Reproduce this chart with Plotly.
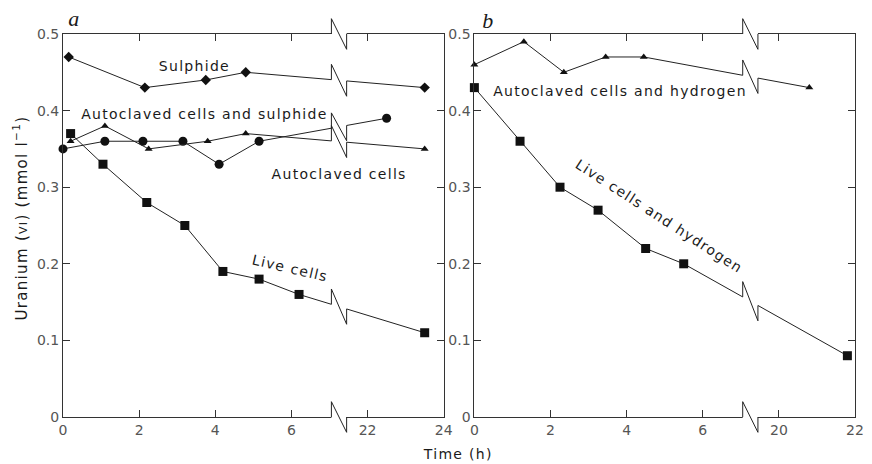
import plotly.graph_objects as go
import numpy as np

# ---------------- data (time in h, uranium(VI) in mmol/l) ----------------
# Panel a
a_sulphide_t = [0.15, 2.15, 3.75, 4.8, 23.5]
a_sulphide_v = [0.47, 0.43, 0.44, 0.45, 0.43]
a_acs_t = [0.0, 1.1, 2.1, 3.15, 4.1, 5.15, 22.5]      # autoclaved cells and sulphide
a_acs_v = [0.35, 0.36, 0.36, 0.36, 0.33, 0.36, 0.39]
a_ac_t = [0.2, 1.1, 2.25, 3.8, 4.8, 23.5]             # autoclaved cells
a_ac_v = [0.36, 0.38, 0.35, 0.36, 0.37, 0.35]
a_live_t = [0.2, 1.05, 2.2, 3.2, 4.2, 5.15, 6.2, 23.5]
a_live_v = [0.37, 0.33, 0.28, 0.25, 0.19, 0.18, 0.16, 0.11]

# Panel b
b_ach_t = [0.0, 1.3, 2.35, 3.45, 4.45, 20.8]           # autoclaved cells and hydrogen
b_ach_v = [0.46, 0.49, 0.45, 0.47, 0.47, 0.43]
b_live_t = [0.0, 1.2, 2.25, 3.25, 4.5, 5.5, 21.8]      # live cells and hydrogen
b_live_v = [0.43, 0.36, 0.30, 0.27, 0.22, 0.20, 0.08]

a_tick_labels = ["0", "2", "4", "6", "22", "24"]
b_tick_labels = ["0", "2", "4", "6", "20", "22"]
y_tick_vals = [0, 0.1, 0.2, 0.3, 0.4, 0.5]
y_tick_labels = ["0", "0.1", "0.2", "0.3", "0.4", "0.5"]

# broken axis: times after the break are shifted left
A_SHIFT = 14
B_SHIFT = 12
BREAK_X0, BREAK_X1 = 7.05, 7.45


def to_axis(ts, shift):
    return [t if t < 7 else t - shift for t in ts]


LINE_C = "#222222"
TXT_C = "#1a1a1a"
TICK_C = "#555555"
FONT = "DejaVu Sans"

fig = go.Figure()

series = [
    # (t, v, shift, marker symbol, size, xaxis, yaxis)
    (a_sulphide_t, a_sulphide_v, A_SHIFT, "diamond", 8, "x", "y"),
    (a_acs_t, a_acs_v, A_SHIFT, "circle", 9, "x", "y"),
    (a_ac_t, a_ac_v, A_SHIFT, "triangle-up", 7, "x", "y"),
    (a_live_t, a_live_v, A_SHIFT, "square", 9, "x", "y"),
    (b_ach_t, b_ach_v, B_SHIFT, "triangle-up", 7, "x2", "y2"),
    (b_live_t, b_live_v, B_SHIFT, "square", 9, "x2", "y2"),
]

shapes = []
# white masks over the break region
for xr in ["x", "x2"]:
    shapes.append(dict(type="rect", xref=xr, yref="paper", x0=BREAK_X0, x1=BREAK_X1,
                       y0=-0.04, y1=1.04, fillcolor="white", line=dict(width=0),
                       layer="above"))

D = 0.04  # zigzag amplitude in paper units


def zig(xr, pL, pR, width=1):
    path = (f"M {BREAK_X0},{pL} L {BREAK_X0},{pL + D} "
            f"L {BREAK_X1},{pR - D} L {BREAK_X1},{pR}")
    return dict(type="path", xref=xr, yref="paper", path=path,
                line=dict(color=LINE_C, width=width), layer="above")


for t, v, shift, sym, size, xa, ya in series:
    xs = to_axis(t, shift)
    fig.add_trace(go.Scatter(
        x=xs, y=v, xaxis=xa, yaxis=ya, mode="lines+markers",
        line=dict(color=LINE_C, width=1),
        marker=dict(symbol=sym, size=size, color="#111111"),
        cliponaxis=False, showlegend=False, hoverinfo="skip"))
    yL = float(np.interp(BREAK_X0, xs, v))
    yR = float(np.interp(BREAK_X1, xs, v))
    shapes.append(zig(xa, yL / 0.5, yR / 0.5))

# axis breaks (top and bottom)
for xr in ["x", "x2"]:
    shapes.append(zig(xr, 1.0, 1.0))
    shapes.append(zig(xr, 0.0, 0.0))

ax_common = dict(
    showline=True, mirror="ticks", linecolor="#333333", linewidth=1,
    ticks="inside", ticklen=7, tickcolor="#333333", tickwidth=1,
    showgrid=False, zeroline=False,
    tickfont=dict(family=FONT, size=14, color=TICK_C),
)

fig.update_layout(
    width=872, height=464,
    margin=dict(l=63, r=8, t=34, b=47),
    paper_bgcolor="white", plot_bgcolor="white",
    xaxis=dict(domain=[0, 0.4807], range=[0, 10], tickvals=[0, 2, 4, 6, 8, 10],
               ticktext=a_tick_labels, anchor="y", **ax_common),
    yaxis=dict(range=[0, 0.5], tickvals=y_tick_vals, ticktext=y_tick_labels,
               anchor="x", **ax_common),
    xaxis2=dict(domain=[0.5194, 1], range=[0, 10], tickvals=[0, 2, 4, 6, 8, 10],
                ticktext=b_tick_labels, anchor="y2", **ax_common),
    yaxis2=dict(range=[0, 0.5], tickvals=y_tick_vals, ticktext=y_tick_labels,
                anchor="x2", **ax_common),
    shapes=shapes,
)

lab_font = dict(family=FONT, size=14, color=TXT_C)
annots = [
    dict(text="Sulphide", x=3.45, y=0.4585, xref="x", yref="y"),
    dict(text="Autoclaved cells and sulphide", x=3.72, y=0.396, xref="x", yref="y"),
    dict(text="Autoclaved cells", x=7.25, y=0.3166, xref="x", yref="y"),
    dict(text="Live cells", x=5.95, y=0.195, xref="x", yref="y", textangle=13),
    dict(text="Autoclaved cells and hydrogen", x=3.82, y=0.426, xref="x2", yref="y2"),
    dict(text="Live cells and hydrogen", x=4.85, y=0.262, xref="x2", yref="y2", textangle=33),
]
for a in annots:
    fig.add_annotation(showarrow=False, font=lab_font, xanchor="center",
                       yanchor="middle", **a)

# panel letters
fig.add_annotation(text="<i>a</i>", x=(75 - 63) / 801, y=(417 - 19) / 383,
                   xref="paper", yref="paper", xanchor="center", yanchor="middle",
                   showarrow=False, font=dict(family="Liberation Serif", size=22, color=TXT_C))
fig.add_annotation(text="<i>b</i>", x=(493 - 63) / 801, y=(417 - 20) / 383,
                   xref="paper", yref="paper", xanchor="center", yanchor="middle",
                   showarrow=False, font=dict(family="Liberation Serif", size=22, color=TXT_C))

# axis titles
fig.add_annotation(text="Time (h)", x=(462 - 63) / 801, y=(417 - 454) / 383,
                   xref="paper", yref="paper", xanchor="center", yanchor="middle",
                   showarrow=False, font=dict(family=FONT, size=14, color=TXT_C))
fig.add_annotation(
    text="Uranium (<span style='font-size:11px'>VI</span>) (mmol l<sup>−1</sup>)",
    x=(20 - 63) / 801, y=(417 - 218) / 383, xref="paper", yref="paper",
    xanchor="center", yanchor="middle",
    showarrow=False, textangle=-90, font=dict(family=FONT, size=15, color=TXT_C))

post = """
var gd = document.getElementById('{plot_id}');
function spaceText(){
  document.querySelectorAll('.annotation-text').forEach(function(e){
    e.style.letterSpacing = '1.3px';
  });
}
spaceText();
gd.on('plotly_afterplot', spaceText);
"""

fig.write_html("out.html", post_script=post)
